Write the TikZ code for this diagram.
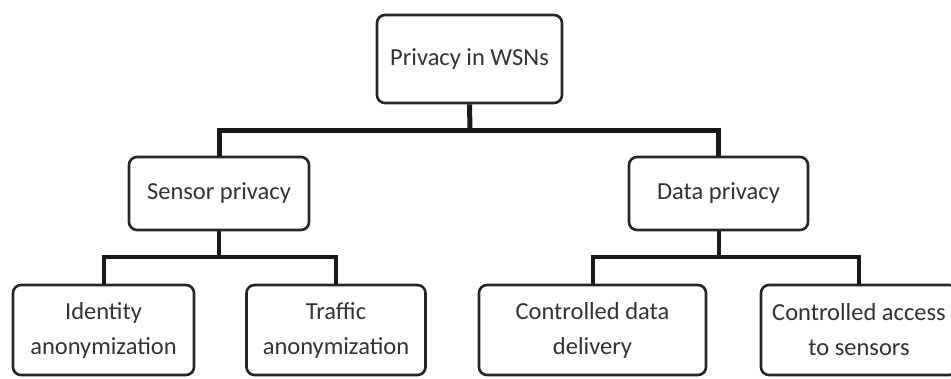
\documentclass[tikz,border=0pt]{standalone}
\usepackage{fontspec}
\setmainfont{Carlito}
\begin{document}
\begin{tikzpicture}[x=1pt,y=-1pt,
  box/.style={draw=black!85,line width=2.6pt,rounded corners=8pt,fill=white,
    align=center,text=black!80,inner sep=0pt,
    font=\fontsize{24.5}{35}\selectfont},
  bar/.style={line width=5pt,draw=black!90},
  sub/.style={line width=4pt,draw=black!90}]
\useasboundingbox (0,0) rectangle (951,378);
\begin{scope}
\clip (0,0) rectangle (951,378);
\node[box,minimum width=185pt,minimum height=88pt] (root) at (469.5,59) {Privacy in WSNs};
\node[box,minimum width=180pt,minimum height=73pt] (sensor) at (219,193.5) {Sensor privacy};
\node[box,minimum width=179pt,minimum height=73pt] (data) at (718.5,193.5) {Data privacy};
\node[box,minimum width=181pt,minimum height=90pt] (ident) at (103.5,330) {Identity\\anonymization};
\node[box,minimum width=179pt,minimum height=90pt] (traf) at (336,330) {Traffic\\anonymization};
\node[box,minimum width=227pt,minimum height=90pt] (cdd) at (592.5,330) {Controlled data\\delivery};
\node[box,minimum width=196pt,minimum height=90pt] (cas) at (859,330) {Controlled access\\to sensors};
\coordinate (b1) at (470,130);
\coordinate (b2) at (219,257);
\coordinate (b3) at (718.5,257);
\draw[bar] (root.south) -- (b1);
\draw[bar] (sensor.north) |- (b1) -| (data.north);
\draw[sub] (sensor.south) -- (b2);
\draw[sub] (ident.north) |- (b2) -| (traf.north);
\draw[sub] (data.south) -- (b3);
\draw[sub] (cdd.north) |- (b3) -| (cas.north);
\end{scope}
\end{tikzpicture}
\end{document}
